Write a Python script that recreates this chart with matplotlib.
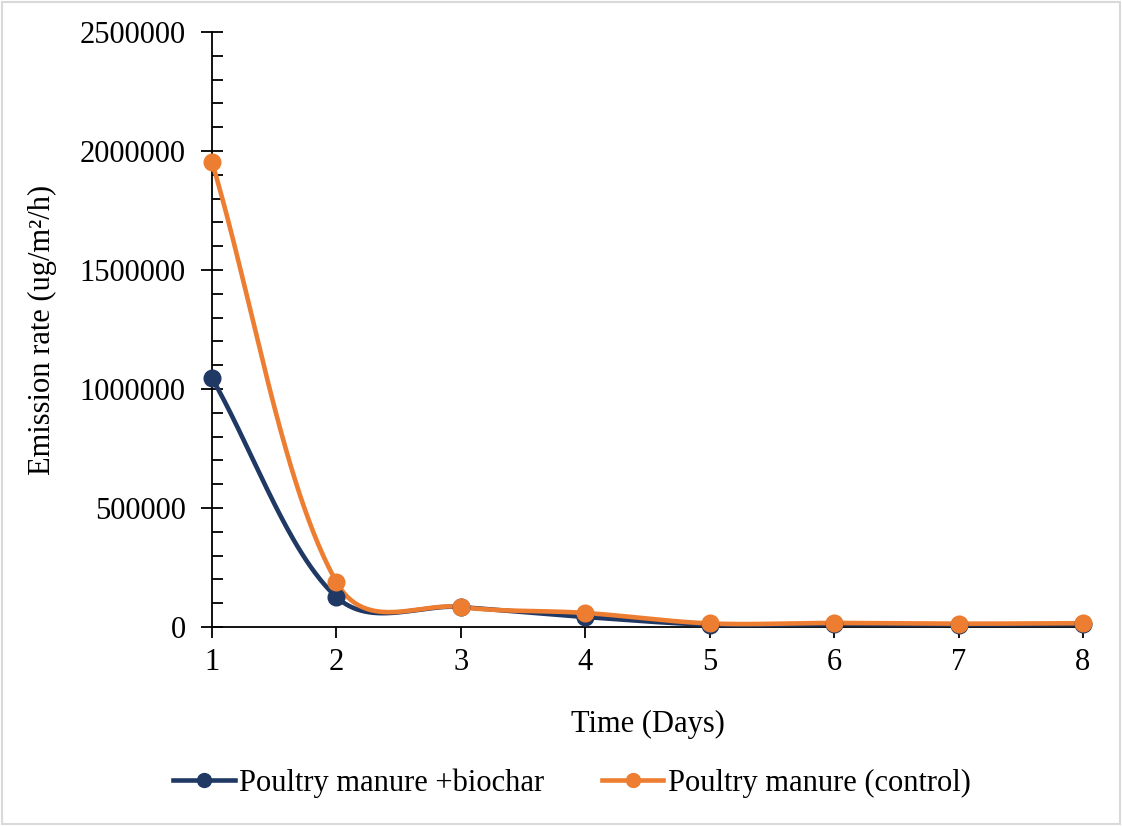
import numpy as np
import matplotlib
matplotlib.use("Agg")
import matplotlib.pyplot as plt
from matplotlib.patches import Rectangle
from matplotlib.ticker import MultipleLocator, StrMethodFormatter

# Values
days = [1, 2, 3, 4, 5, 6, 7, 8]
biochar = [1046000, 126000, 84000, 42000, 10000, 12000, 10000, 12000]
control = [1954000, 189000, 84000, 59000, 15000, 17000, 14000, 16000]
labels = ["Poultry manure +biochar", "Poultry manure (control)"]
colors = ["#1F3864", "#ED7D31"]


def smooth(ax, x, y, n=60):
    # Excel-like smoothed line: cubic Bezier pieces, control points from
    # neighbouring points, scaled by segment lengths in display space
    pts = ax.transData.transform(np.column_stack([x, y]).astype(float))
    p = np.vstack([pts[0], pts, pts[-1]])
    t = np.linspace(0, 1, n)[:, None]
    out = []
    for i in range(len(pts) - 1):
        a, b, c, d = p[i], p[i + 1], p[i + 2], p[i + 3]
        la, lb, lc = (np.hypot(*(b - a)) + 1e-9, np.hypot(*(c - b)) + 1e-9,
                      np.hypot(*(d - c)) + 1e-9)
        m1 = 2 * np.sqrt(lb) / (np.sqrt(la) + np.sqrt(lb))
        m2 = 2 * np.sqrt(lb) / (np.sqrt(lb) + np.sqrt(lc))
        c1 = b + m1 * (c - a) / 6
        c2 = c - m2 * (d - b) / 6
        seg = (1 - t) ** 3 * b + 3 * (1 - t) ** 2 * t * c1 + 3 * (1 - t) * t ** 2 * c2 + t ** 3 * c
        out.append(seg)
    out = ax.transData.inverted().transform(np.vstack(out))
    return out[:, 0], out[:, 1]


plt.rcParams["font.family"] = ["Liberation Serif", "DejaVu Serif"]

fig = plt.figure(figsize=(11.22, 8.26), dpi=100)
ax = fig.add_axes([212 / 1122, 1 - 627 / 826, (1083 - 212) / 1122, (627 - 32) / 826])

ax.set_xlim(1, 8)
ax.set_ylim(0, 2500000)

for series, lab, col in zip([biochar, control], labels, colors):
    sx, sy = smooth(ax, days, series)
    ax.plot(sx, sy, color=col, lw=3.3, solid_capstyle="round", zorder=3, clip_on=False)
    ax.plot(days, series, "o", color=col, ms=12, zorder=4, clip_on=False)
    ax.plot([], [], color=col, lw=3.3, marker="o", ms=10, label=lab)

ax.set_xticks(days)
ax.yaxis.set_major_locator(MultipleLocator(500000))
ax.yaxis.set_minor_locator(MultipleLocator(100000))
ax.yaxis.set_major_formatter(StrMethodFormatter("{x:.0f}"))

for s in ["top", "right"]:
    ax.spines[s].set_visible(False)
for s in ["left", "bottom"]:
    ax.spines[s].set_linewidth(1.3)

ax.tick_params(axis="y", which="major", direction="inout", length=16, width=1.3, labelsize=22, pad=11)
ax.tick_params(axis="y", which="minor", direction="in", length=8, width=1.3)
ax.tick_params(axis="x", which="major", direction="out", length=8, width=1.3, labelsize=22, pad=7)

ax.set_xlabel("Time (Days)", fontsize=22, labelpad=24)
ax.set_ylabel("Emission rate (ug/m²/h)", fontsize=22, labelpad=16)

fig.legend(loc="center", bbox_to_anchor=(0.51, 1 - 783 / 826), ncol=2, frameon=False,
           fontsize=22, handlelength=2.0, columnspacing=1.9, handletextpad=0.15)

fig.patches.append(Rectangle((0.002, 0.002), 0.996, 0.996, transform=fig.transFigure,
                             fill=False, edgecolor="#D9D9D9", lw=1.5))

fig.savefig("out.png", dpi=100)
